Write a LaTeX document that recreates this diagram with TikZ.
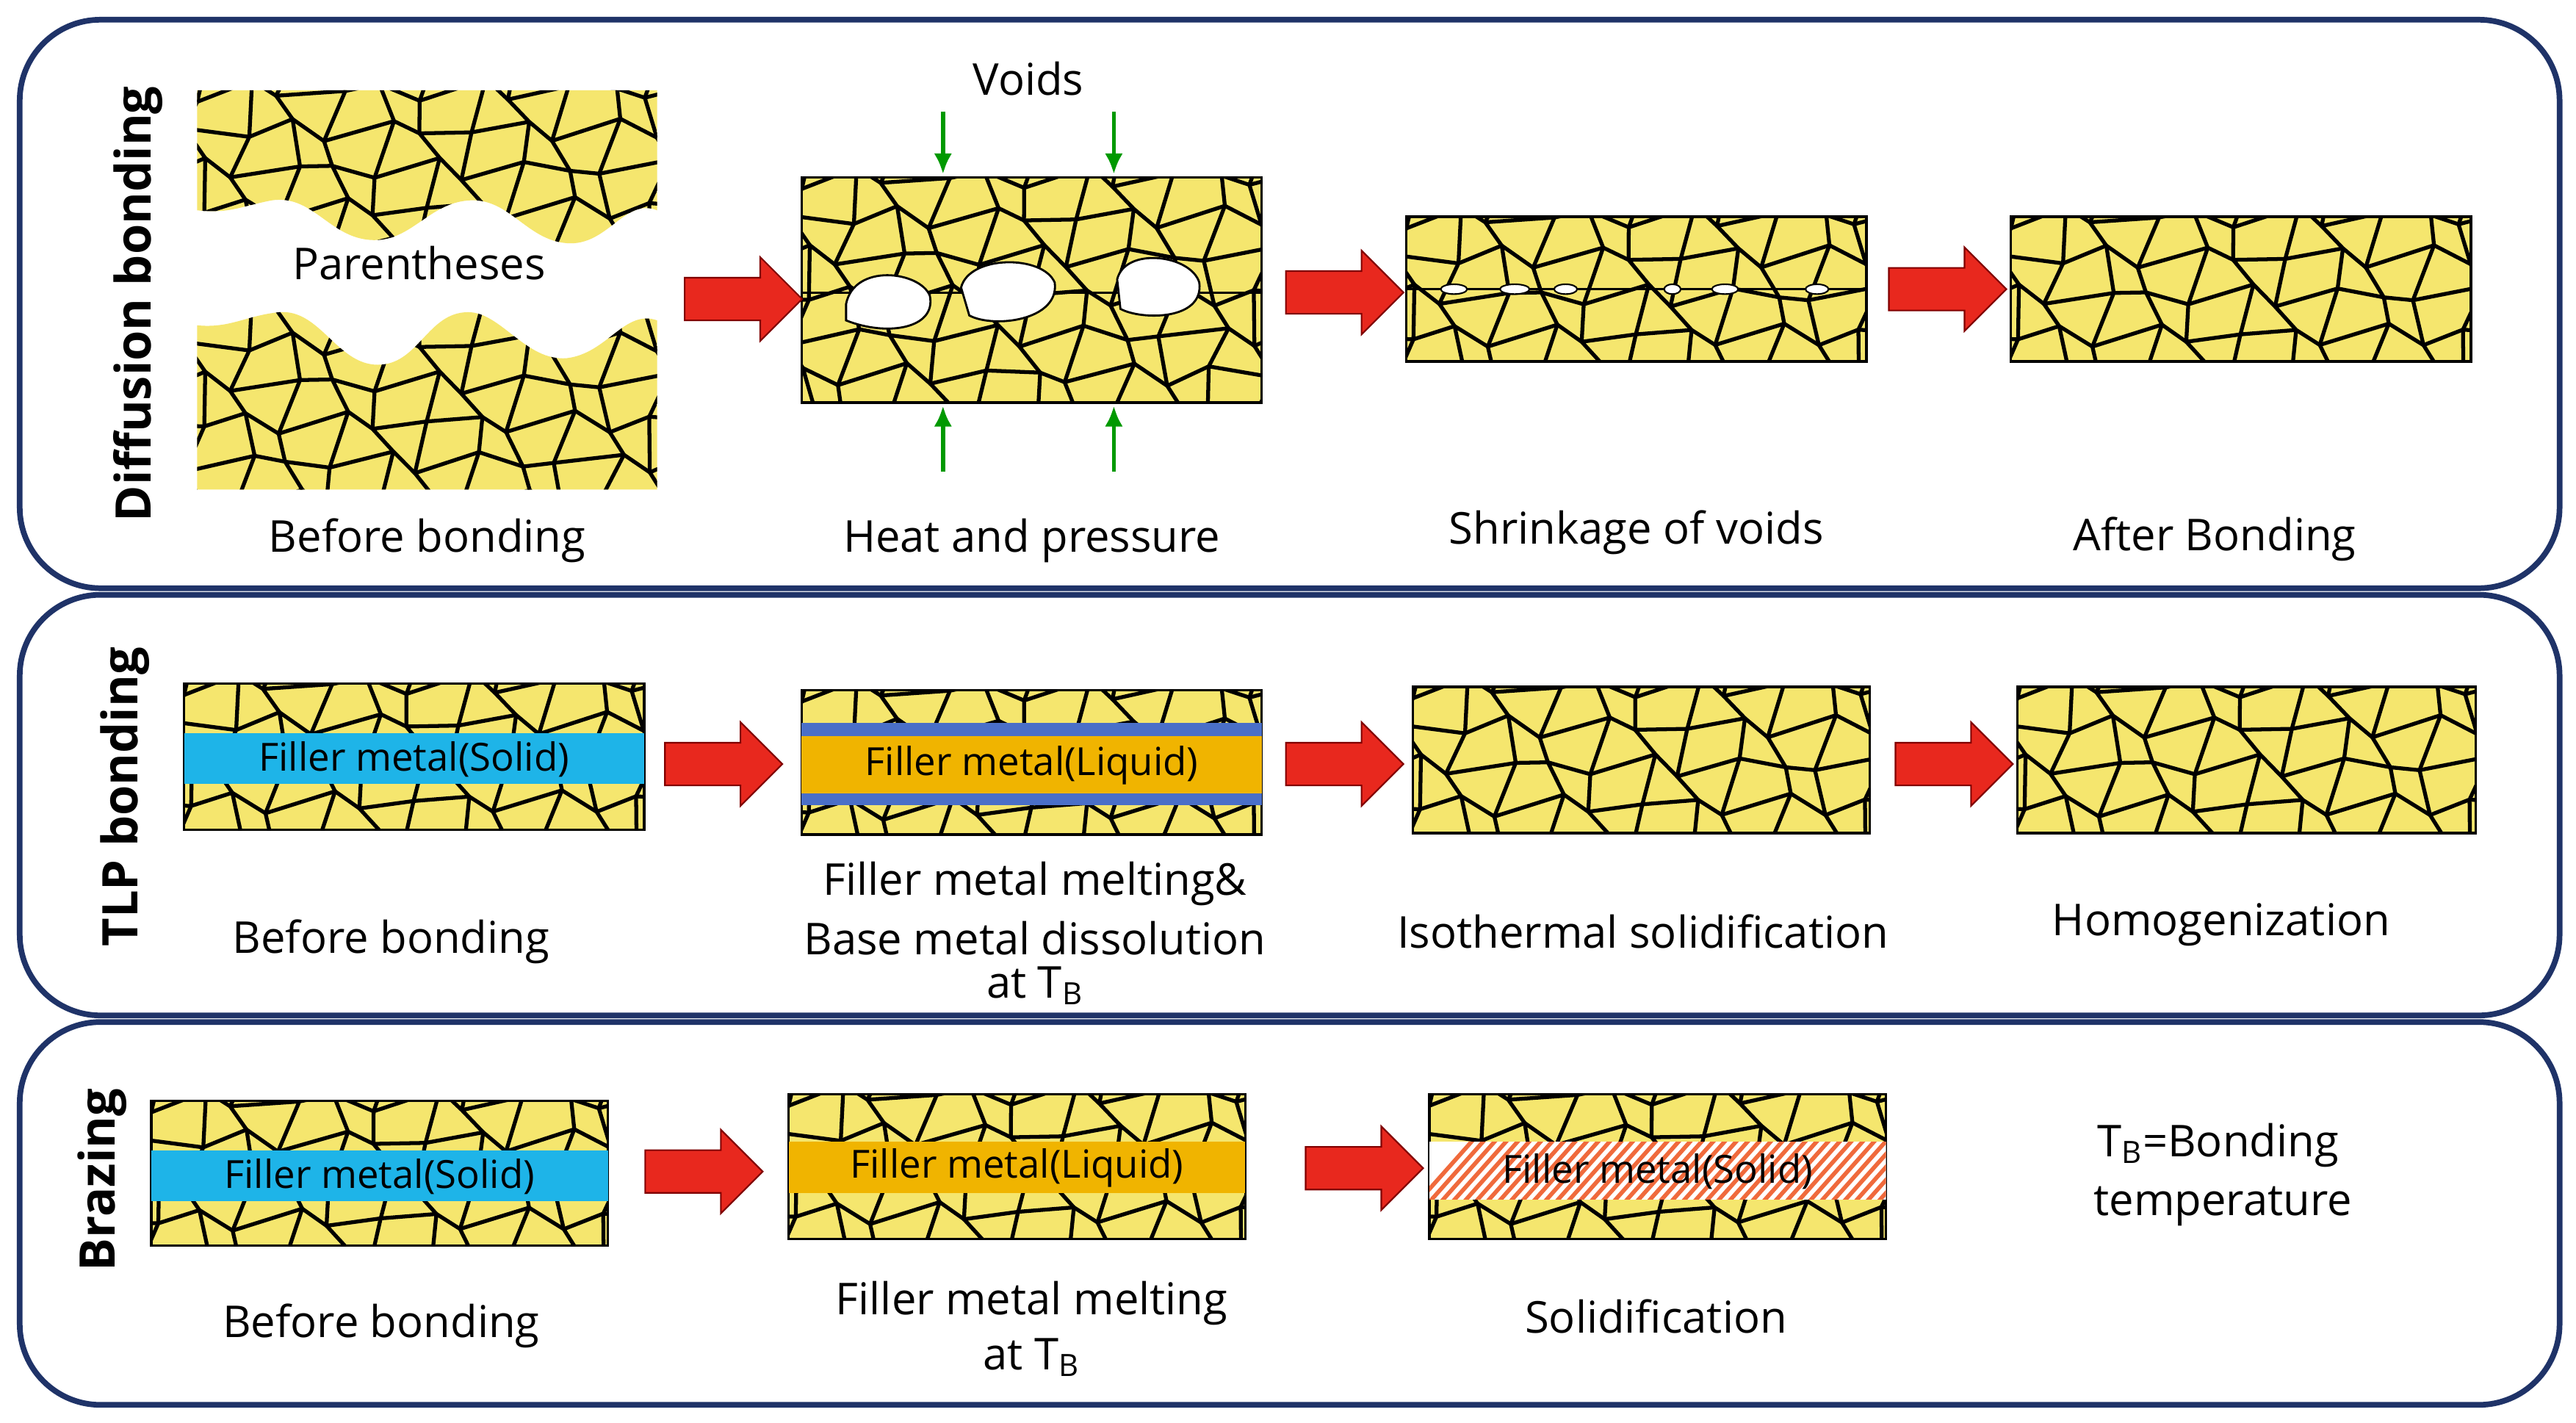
\documentclass[tikz,border=0pt]{standalone}
\usepackage{fontspec}
\setmainfont{Open Sans}
\usetikzlibrary{shapes.arrows,arrows.meta}
\definecolor{navy}{HTML}{1F3368}
\definecolor{grainy}{HTML}{F5E66E}
\definecolor{fsolid}{HTML}{1EB4E8}
\definecolor{fliq}{HTML}{F0B400}
\definecolor{fedge}{HTML}{4A6FC8}
\definecolor{arred}{HTML}{E8281E}
\definecolor{hatch}{HTML}{F06A3C}
\tikzset{
 x=0.02237cm, y=-0.02237cm,
 panel/.style={draw=navy, line width=2.2pt, rounded corners=1.1cm},
 lbl/.style={font=\fontsize{17}{20}\selectfont, inner sep=0},
 ttl/.style={font=\bfseries\fontsize{19}{22}\selectfont, rotate=90, inner sep=0},
 barr/.style={single arrow, fill=arred, draw=red!50!black, line width=0.6pt, minimum height=1.6cm, inner xsep=0, inner ysep=0.28cm, single arrow head extend=0.28cm, single arrow head indent=0},
 band/.style={font=\fontsize{15}{18}\selectfont},
 declare function={jx(\i,\j)=8*sin(\i*137+\j*251); jy(\i,\j)=7*cos(\i*211+\j*97);}
}
\newcommand{\grainfill}[5]{%
 \fill[grainy] #1;
 \begin{scope}
 \clip #1;
 \foreach \i in {-1,...,11}{\foreach \j in {-1,...,5}{
  \pgfmathsetmacro{\ax}{#2+\i*28+jx(\i,\j)}
  \pgfmathsetmacro{\ay}{#3+\j*24+jy(\i,\j)}
  \pgfmathsetmacro{\bx}{#2+(\i+1)*28+jx(\i+1,\j)}
  \pgfmathsetmacro{\by}{#3+\j*24+jy(\i+1,\j)}
  \pgfmathsetmacro{\cx}{#2+\i*28+jx(\i,\j+1)}
  \pgfmathsetmacro{\cy}{#3+(\j+1)*24+jy(\i,\j+1)}
  \draw[line width=1.5pt, line join=round] (\cx,\cy) -- (\ax,\ay) -- (\bx,\by);
 }}
 \end{scope}
}
\newcommand{\grainbox}[4]{\grainfill{(#1,#2) rectangle (#3,#4)}{#1}{#2}{#3}{#4}\draw[line width=1pt] (#1,#2) rectangle (#3,#4);}
\begin{document}
\begin{tikzpicture}
\useasboundingbox (0,0) rectangle (1568,866);
\fill[white] (0,0) rectangle (1568,866);
\draw[panel] (12,12) rectangle (1558,358);
\draw[panel] (12,362) rectangle (1558,618);
\draw[panel] (12,622) rectangle (1558,855);
\node[ttl] (t1) at (84,185) {Diffusion bonding};
\node[ttl] (t2) at (76,485) {TLP bonding};
\node[ttl] (t3) at (62,718) {Brazing};
\grainfill{(120,55) -- (400,55) -- (400,128) .. controls (380,120) and (370,150) .. (345,148) .. controls (320,146) and (310,120) .. (285,122) .. controls (260,124) and (250,148) .. (225,146) .. controls (200,144) and (190,118) .. (165,122) .. controls (145,126) and (140,130) .. (120,128) -- cycle}{120}{55}{400}{150}
\grainfill{(120,298) -- (400,298) -- (400,195) .. controls (380,188) and (370,215) .. (345,218) .. controls (320,220) and (305,190) .. (285,190) .. controls (260,190) and (255,222) .. (230,222) .. controls (205,222) and (195,188) .. (170,190) .. controls (150,192) and (140,200) .. (120,198) -- cycle}{120}{185}{400}{298}
\node[lbl] (par) at (255,160) {Parentheses};
\node[lbl] (l11) at (260,329) {Before bonding};
\grainbox{488}{108}{768}{245}
\draw[line width=0.8pt] (488,178) -- (768,178);
\fill[white,draw=black,line width=0.8pt] (515,185) .. controls (520,160) and (560,165) .. (566,180) .. controls (570,200) and (540,205) .. (515,195) -- cycle;
\fill[white,draw=black,line width=0.8pt] (585,175) .. controls (590,155) and (635,155) .. (642,172) .. controls (645,195) and (605,200) .. (590,192) -- cycle;
\fill[white,draw=black,line width=0.8pt] (680,170) .. controls (685,150) and (725,155) .. (730,172) .. controls (733,195) and (695,195) .. (682,188) -- cycle;
\node[lbl] (voids) at (626,48) {Voids};
\coordinate (g1a) at (574,68); \coordinate (g1b) at (574,106);
\coordinate (g2a) at (678,68); \coordinate (g2b) at (678,106);
\coordinate (g3a) at (574,287); \coordinate (g3b) at (574,247);
\coordinate (g4a) at (678,287); \coordinate (g4b) at (678,247);
\foreach \a/\b in {g1a/g1b,g2a/g2b,g3a/g3b,g4a/g4b}
 \draw[green!60!black, line width=1.6pt, -{Latex[length=8pt,width=7pt]}] (\a) -- (\b);
\node[lbl] (l12) at (628,329) {Heat and pressure};
\grainbox{856}{132}{1136}{220}
\draw[line width=0.8pt] (856,176) -- (1136,176);
\foreach \px/\w in {885/8,922/9,953/7,1018/5,1050/8,1106/7}
 \draw[fill=white,line width=0.6pt] (\px,176) ellipse ({\w} and 3);
\node[lbl] (l13) at (996,324) {Shrinkage of voids};
\grainbox{1224}{132}{1504}{220}
\node[lbl] (l14) at (1348,328) {After Bonding};
\node[barr] (a11) at (446,182) {};
\node[barr] (a12) at (812,178) {};
\node[barr] (a13) at (1179,176) {};
\grainbox{112}{416}{392}{505}
\fill[fsolid] (112,446) rectangle (392,477);
\node[band] (f21) at (252,462) {Filler metal(Solid)};
\grainbox{488}{420}{768}{508}
\fill[fedge] (488,440) rectangle (768,490);
\fill[fliq] (488,448) rectangle (768,483);
\node[band] (f22) at (628,466) {Filler metal(Liquid)};
\grainbox{860}{418}{1138}{507}
\grainbox{1228}{418}{1507}{507}
\node[barr] (a21) at (434,465) {};
\node[barr] (a22) at (812,465) {};
\node[barr] (a23) at (1183,465) {};
\node[lbl] (l21) at (238,573) {Before bonding};
\node[lbl] (l22a) at (630,538) {Filler metal melting\&};
\node[lbl] (l22b) at (630,571) {Base metal dissolution};
\node[lbl] (l22c) at (630,600) {at T\textsubscript{B}};
\node[lbl] (l23) at (1000,567) {Isothermal solidification};
\node[lbl] (l24) at (1352,563) {Homogenization};
\grainbox{92}{670}{370}{758}
\fill[fsolid] (92,700) rectangle (370,731);
\node[band] (f31) at (231,716) {Filler metal(Solid)};
\grainbox{480}{666}{758}{754}
\fill[fliq] (480,695) rectangle (758,726);
\node[band] (f32) at (619,711) {Filler metal(Liquid)};
\grainbox{870}{666}{1148}{754}
\begin{scope}
\clip (870,695) rectangle (1148,730);
\fill[white] (870,695) rectangle (1148,730);
\foreach \k in {0,...,50} \draw[hatch,line width=1.6pt] (860+\k*7,735) -- (860+\k*7+40,690);
\end{scope}
\node[band] (f33) at (1009,713) {Filler metal(Solid)};
\node[barr] (a31) at (422,713) {};
\node[barr] (a32) at (824,711) {};
\node[lbl] (l31) at (232,807) {Before bonding};
\node[lbl] (l32a) at (628,793) {Filler metal melting};
\node[lbl] (l32b) at (628,826) {at T\textsubscript{B}};
\node[lbl] (l33) at (1008,801) {Solidification};
\node[lbl] (l34a) at (1350,697) {T\textsubscript{B}=Bonding};
\node[lbl] (l34b) at (1353,734) {temperature};
\end{tikzpicture}
\end{document}
